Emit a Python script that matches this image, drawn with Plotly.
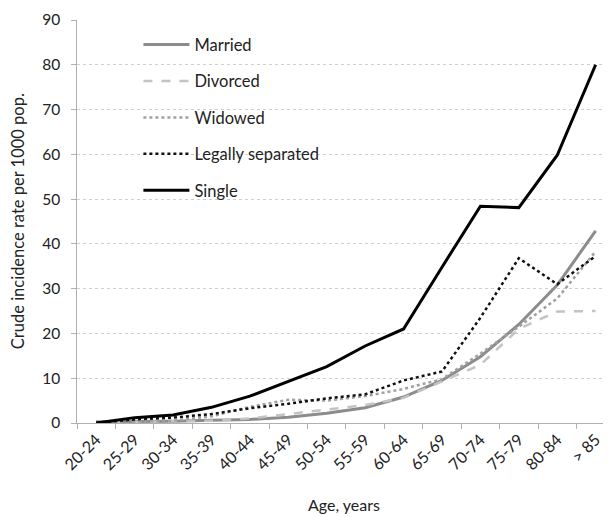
import plotly.graph_objects as go

ages = ["20-24", "25-29", "30-34", "35-39", "40-44", "45-49", "50-54", "55-59",
        "60-64", "65-69", "70-74", "75-79", "80-84", "> 85"]
married = [0.3, 0.3, 0.4, 0.6, 0.8, 1.3, 2.2, 3.4, 5.8, 9.5, 14.8, 22.0, 30.8, 42.9]
divorced = [0.3, 0.2, 0.4, 0.5, 1.0, 2.0, 3.0, 4.0, 5.6, 9.3, 13.0, 21.0, 24.9, 25.0]
widowed = [0.3, 0.3, 0.5, 1.5, 3.6, 5.2, 5.0, 6.0, 7.6, 9.8, 15.5, 21.5, 27.8, 38.3]
separated = [0.0, 0.8, 1.2, 2.0, 3.3, 4.3, 5.5, 6.4, 9.5, 11.5, 23.5, 36.8, 31.0, 37.3]
single = [0.0, 1.2, 1.8, 3.5, 6.0, 9.3, 12.6, 17.2, 21.0, 34.8, 48.4, 48.1, 59.8, 80.0]

series = [
    ("Married", married, dict(color="#8c8c8c", width=3, dash="solid")),
    ("Divorced", divorced, dict(color="#c4c4c4", width=2.5, dash="dash")),
    ("Widowed", widowed, dict(color="#a0a0a0", width=2.5, dash="dot")),
    ("Legally separated", separated, dict(color="#111111", width=2.5, dash="dot")),
    ("Single", single, dict(color="#000000", width=3, dash="solid")),
]

fig = go.Figure()
for i, (name, vals, line) in enumerate(series):
    fig.add_trace(go.Scatter(x=ages, y=vals, name=name, mode="lines", line=line,
                             legendgroup=str(i)))

fam = "Lato, Open Sans, sans-serif"
fig.update_layout(
    width=603, height=509,
    margin=dict(l=69, r=0, t=12, b=94),
    paper_bgcolor="white", plot_bgcolor="white",
    font=dict(family=fam, size=15, color="#222222"),
    showlegend=True,
    legend=dict(x=0.115, y=0.982, xanchor="left", yanchor="top",
                bgcolor="rgba(0,0,0,0)", tracegroupgap=12, itemwidth=46,
                font=dict(family=fam, size=16.5, color="#222")),
    xaxis=dict(type="category", range=[-0.5, 13.4], showgrid=False, automargin=False,
               showline=True, linecolor="#b0b0b0", linewidth=1,
               ticks="outside", tickson="boundaries", ticklen=5, tickcolor="#b0b0b0",
               tickangle=-45, tickfont=dict(size=16, color="#222"),
               title=dict(text="Age, years", font=dict(size=16, color="#222"), standoff=27)),
    yaxis=dict(range=[0, 90], dtick=10, showgrid=True, gridcolor="#cfcfcf",
               griddash="dot", gridwidth=1, zeroline=False, automargin=False,
               showline=True, linecolor="#b0b0b0", linewidth=1,
               ticks="outside", ticklen=5, tickcolor="#b0b0b0", ticksuffix="\u2002",
               tickfont=dict(size=15.5, color="#222")),
    annotations=[dict(text="Crude incidence rate per 1000 pop.", textangle=-90,
                      xref="paper", yref="paper", x=-0.111, y=0.5,
                      xanchor="center", yanchor="middle", showarrow=False,
                      font=dict(family=fam, size=16.5, color="#222"))],
)

fig.write_html("out.html")
